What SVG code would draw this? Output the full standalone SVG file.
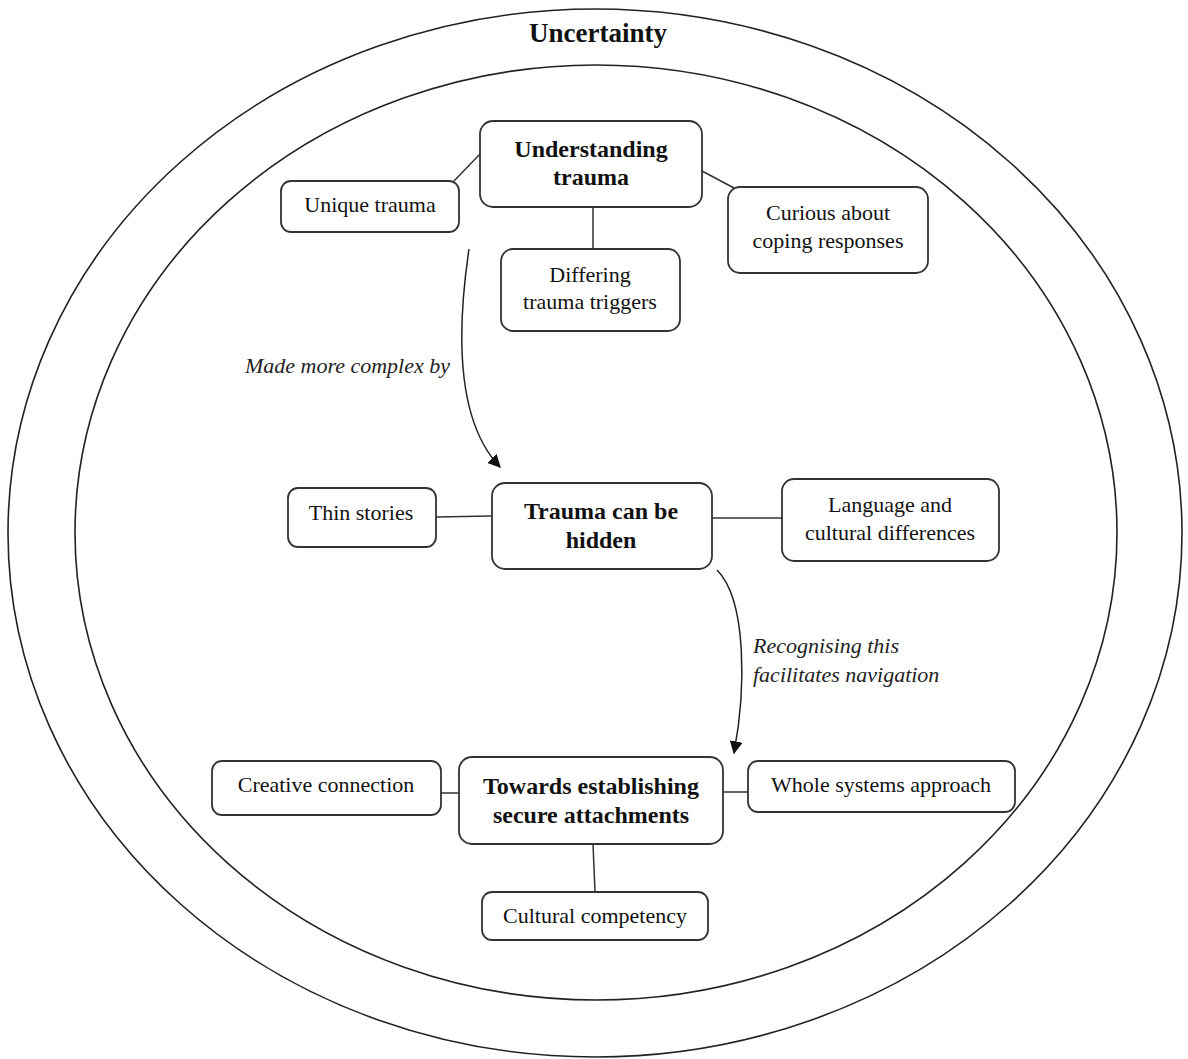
<svg xmlns="http://www.w3.org/2000/svg" width="1188" height="1059" viewBox="0 0 1188 1059">
<style>
.ring{fill:none;stroke:#222;stroke-width:1.6}
.box{fill:#fff;stroke:#333;stroke-width:1.8}
.t{font-family:"Liberation Serif","Times New Roman",serif;font-size:22px;fill:#111;text-anchor:middle}
.b{font-weight:bold;font-size:24px}
.i{font-family:"Liberation Serif","Times New Roman",serif;font-size:22px;font-style:italic;fill:#222}
.ln{fill:none;stroke:#333;stroke-width:1.5}
.ar{fill:none;stroke:#222;stroke-width:1.5;marker-end:url(#ah)}
</style>
<defs>
<marker id="ah" viewBox="0 0 10 10" refX="9" refY="5" markerWidth="13" markerHeight="13" markerUnits="userSpaceOnUse" orient="auto">
<path d="M0,0 L10,5 L0,10 z" fill="#111"/>
</marker>
</defs>
<rect width="1188" height="1059" fill="#fff"/>
<g id="rings">
<ellipse class="ring" cx="595" cy="533" rx="587" ry="524"/>
<ellipse class="ring" cx="596" cy="532.5" rx="521" ry="467.5"/>
<text class="t b" x="598" y="42" style="font-size:27px">Uncertainty</text>
</g>
<g id="connectors">
<line class="ln" x1="481" y1="153" x2="454" y2="181"/>
<line class="ln" x1="593" y1="207" x2="593" y2="249"/>
<line class="ln" x1="702" y1="171" x2="734" y2="188"/>
<line class="ln" x1="436" y1="517" x2="491" y2="516"/>
<line class="ln" x1="712" y1="518" x2="782" y2="518"/>
<line class="ln" x1="440" y1="793" x2="459" y2="793"/>
<line class="ln" x1="723" y1="792" x2="748" y2="792"/>
<line class="ln" x1="593" y1="844" x2="595" y2="892"/>
<path class="ar" d="M469 249 C457 330 455 420 500 467"/>
<path class="ar" d="M717 570 C747 600 746 690 734 753"/>
<text class="i" x="450" y="373" text-anchor="end">Made more complex by</text>
<text class="i" x="753" y="653">Recognising this</text>
<text class="i" x="753" y="682">facilitates navigation</text>
</g>
<g id="understanding-trauma">
<rect class="box" x="480" y="121" width="222" height="86" rx="13"/>
<text class="t b" x="591" y="157">Understanding</text>
<text class="t b" x="591" y="185">trauma</text>
</g>
<g id="unique-trauma">
<rect class="box" x="281" y="181" width="178" height="51" rx="10"/>
<text class="t" x="370" y="212">Unique trauma</text>
</g>
<g id="differing-triggers">
<rect class="box" x="501" y="249" width="179" height="82" rx="12"/>
<text class="t" x="590" y="282">Differing</text>
<text class="t" x="590" y="309">trauma triggers</text>
</g>
<g id="curious-coping">
<rect class="box" x="728" y="187" width="200" height="86" rx="12"/>
<text class="t" x="828" y="220">Curious about</text>
<text class="t" x="828" y="248">coping responses</text>
</g>
<g id="trauma-hidden">
<rect class="box" x="492" y="483" width="220" height="86" rx="13"/>
<text class="t b" x="601" y="519">Trauma can be</text>
<text class="t b" x="601" y="548">hidden</text>
</g>
<g id="thin-stories">
<rect class="box" x="288" y="488" width="148" height="59" rx="10"/>
<text class="t" x="361" y="520">Thin stories</text>
</g>
<g id="language-cultural">
<rect class="box" x="782" y="479" width="217" height="82" rx="12"/>
<text class="t" x="890" y="512">Language and</text>
<text class="t" x="890" y="540">cultural differences</text>
</g>
<g id="secure-attachments">
<rect class="box" x="459" y="757" width="264" height="87" rx="13"/>
<text class="t b" x="591" y="794">Towards establishing</text>
<text class="t b" x="591" y="823">secure attachments</text>
</g>
<g id="creative-connection">
<rect class="box" x="212" y="761" width="229" height="54" rx="10"/>
<text class="t" x="326" y="792">Creative connection</text>
</g>
<g id="whole-systems">
<rect class="box" x="748" y="761" width="267" height="51" rx="10"/>
<text class="t" x="881" y="792">Whole systems approach</text>
</g>
<g id="cultural-competency">
<rect class="box" x="482" y="892" width="226" height="48" rx="10"/>
<text class="t" x="595" y="923">Cultural competency</text>
</g>
</svg>
